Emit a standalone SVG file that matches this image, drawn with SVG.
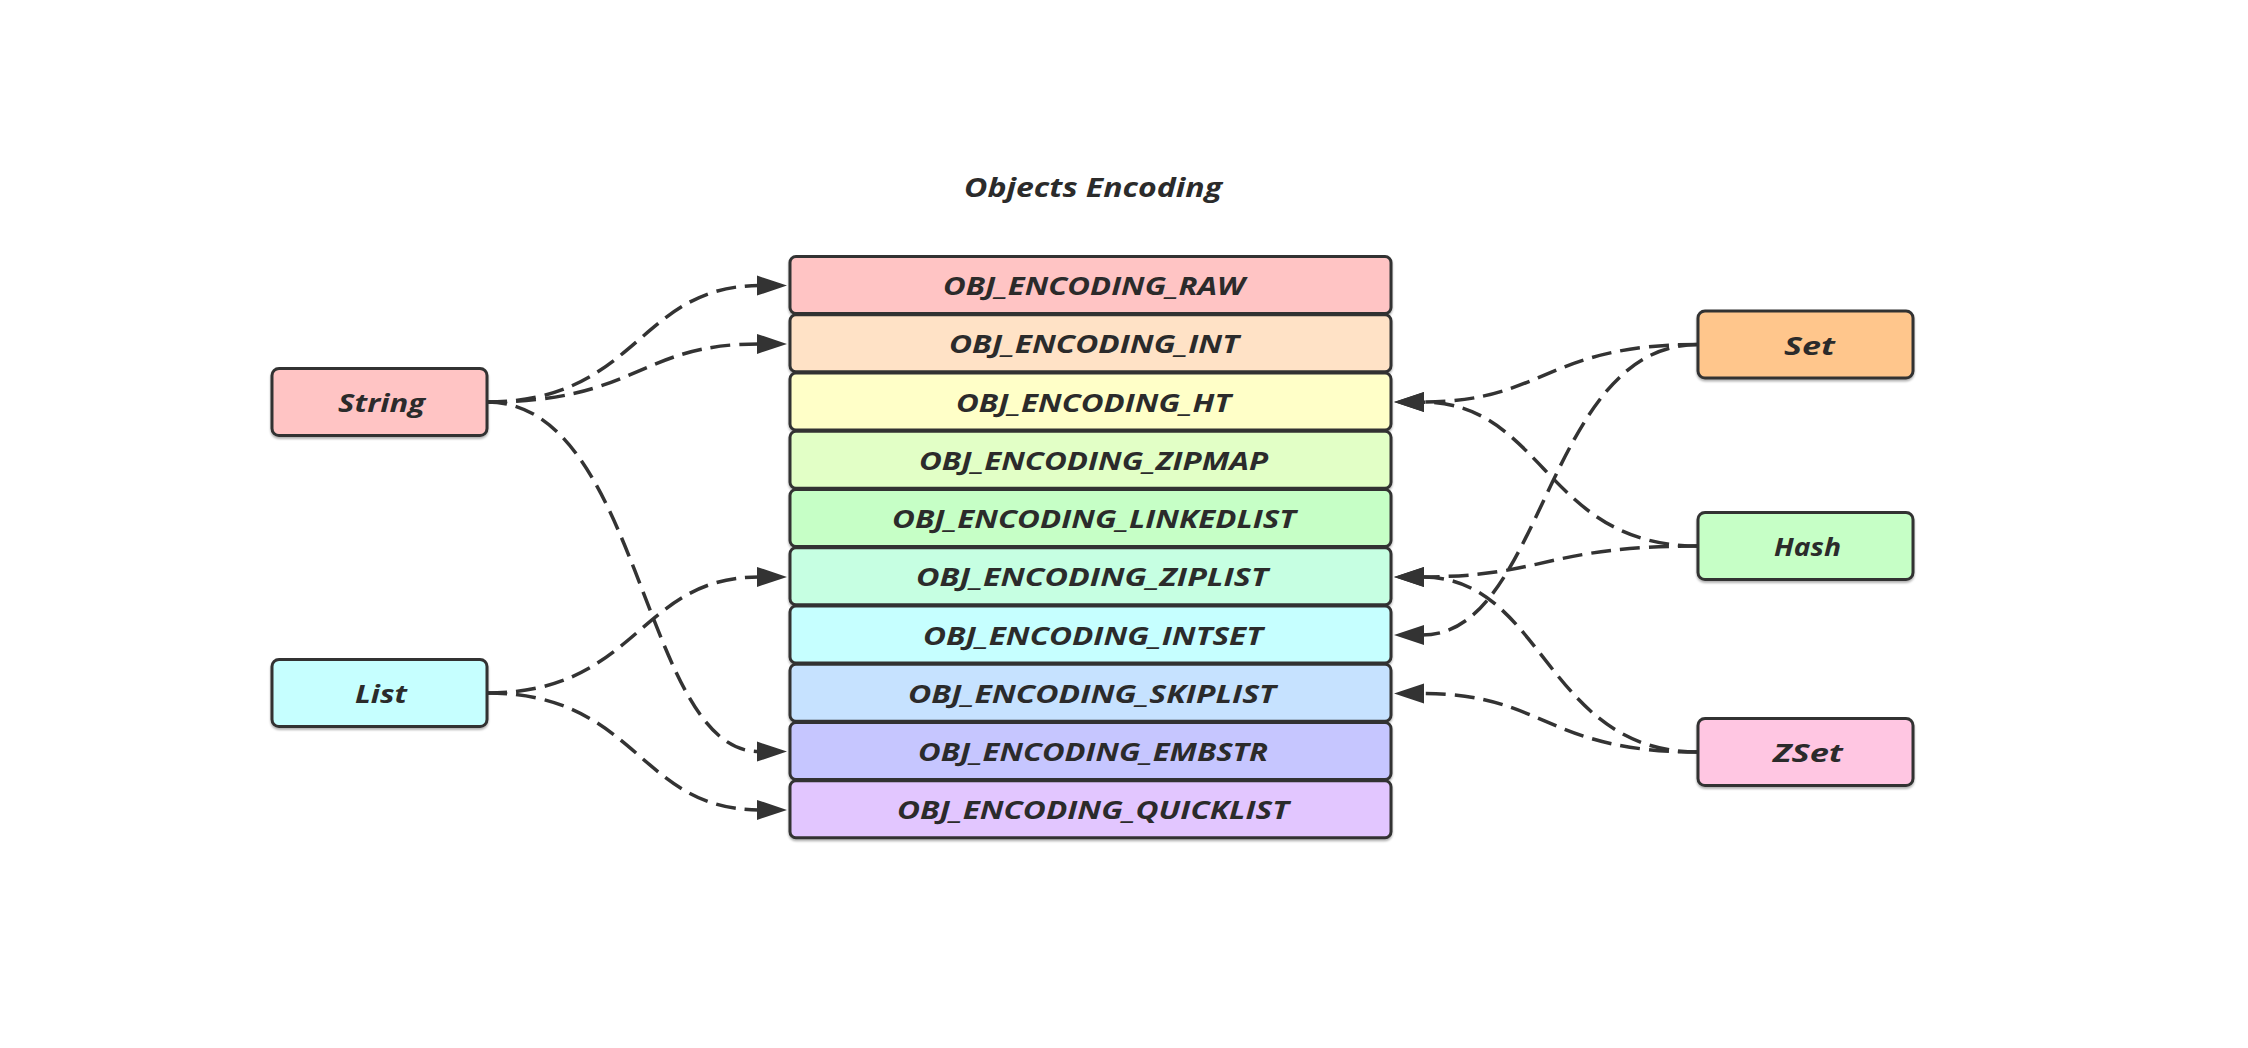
<svg xmlns="http://www.w3.org/2000/svg" width="2248" height="1048" viewBox="0 0 2248 1048">
<defs>
<style>
.box{stroke:#333333;stroke-width:3}
.lbl{font-family:"Open Sans","Liberation Sans",sans-serif;font-weight:700;font-style:italic;font-size:25px;fill:#2b2b2b;text-anchor:middle}
.title{font-family:"Open Sans","Liberation Sans",sans-serif;font-weight:700;font-style:italic;font-size:27px;fill:#2b2b2b;text-anchor:middle}
.edge{fill:none;stroke:#333333;stroke-width:3.5;stroke-dasharray:20 9}
</style>
<filter id="sh" x="-5%" y="-10%" width="110%" height="130%">
<feDropShadow dx="0" dy="2" stdDeviation="1" flood-color="#000" flood-opacity="0.3"/>
</filter>
<marker id="arr" markerUnits="userSpaceOnUse" markerWidth="32" markerHeight="22" viewBox="0 0 32 22" refX="2" refY="11" orient="auto">
<path d="M0,1 L30,11 L0,21 z" fill="#333333"/>
</marker>
</defs>
<rect width="2248" height="1048" fill="#ffffff"/>

<text class="title" x="1093" y="197" textLength="258" lengthAdjust="spacingAndGlyphs">Objects Encoding</text>

<g id="connectors">
<path class="edge" marker-end="url(#arr)" d="M487,402 C638,402 638,285.6 759,285.6"/>
<path class="edge" marker-end="url(#arr)" d="M487,402 C638,402 638,343.9 759,343.9"/>
<path class="edge" marker-end="url(#arr)" d="M487,402 C642,402 642,751.6 759,751.6"/>
<path class="edge" marker-end="url(#arr)" d="M487,693 C638,693 638,576.9 759,576.9"/>
<path class="edge" marker-end="url(#arr)" d="M487,693 C638,693 638,809.9 759,809.9"/>
<path class="edge" marker-end="url(#arr)" d="M1698,344.5 C1545,344.5 1545,402.1 1422,402.1"/>
<path class="edge" marker-end="url(#arr)" d="M1698,344.5 C1545,344.5 1545,635.1 1422,635.1"/>
<path class="edge" marker-end="url(#arr)" d="M1698,546 C1545,546 1545,402.1 1422,402.1"/>
<path class="edge" marker-end="url(#arr)" d="M1698,546 C1545,546 1545,576.9 1422,576.9"/>
<path class="edge" marker-end="url(#arr)" d="M1698,752 C1545,752 1545,576.9 1422,576.9"/>
<path class="edge" marker-end="url(#arr)" d="M1698,752 C1545,752 1545,693.4 1422,693.4"/>
</g>

<g id="enc-raw"><rect class="box" filter="url(#sh)" x="790" y="256.5" width="601" height="57" rx="6" fill="#FFC4C4"/><text class="lbl" x="1094" y="295" textLength="302" lengthAdjust="spacingAndGlyphs">OBJ_ENCODING_RAW</text></g>
<g id="enc-int"><rect class="box" filter="url(#sh)" x="790" y="314.75" width="601" height="57" rx="6" fill="#FFE2C6"/><text class="lbl" x="1094" y="353.3" textLength="290" lengthAdjust="spacingAndGlyphs">OBJ_ENCODING_INT</text></g>
<g id="enc-ht"><rect class="box" filter="url(#sh)" x="790" y="373" width="601" height="57" rx="6" fill="#FFFFC8"/><text class="lbl" x="1093.5" y="411.5" textLength="275" lengthAdjust="spacingAndGlyphs">OBJ_ENCODING_HT</text></g>
<g id="enc-zipmap"><rect class="box" filter="url(#sh)" x="790" y="431.25" width="601" height="57" rx="6" fill="#E2FFC6"/><text class="lbl" x="1093.5" y="469.8" textLength="349" lengthAdjust="spacingAndGlyphs">OBJ_ENCODING_ZIPMAP</text></g>
<g id="enc-linkedlist"><rect class="box" filter="url(#sh)" x="790" y="489.5" width="601" height="57" rx="6" fill="#C6FFC6"/><text class="lbl" x="1094" y="528" textLength="404" lengthAdjust="spacingAndGlyphs">OBJ_ENCODING_LINKEDLIST</text></g>
<g id="enc-ziplist"><rect class="box" filter="url(#sh)" x="790" y="547.75" width="601" height="57" rx="6" fill="#C6FFE2"/><text class="lbl" x="1092" y="586.3" textLength="352" lengthAdjust="spacingAndGlyphs">OBJ_ENCODING_ZIPLIST</text></g>
<g id="enc-intset"><rect class="box" filter="url(#sh)" x="790" y="606" width="601" height="57" rx="6" fill="#C6FFFF"/><text class="lbl" x="1093" y="644.5" textLength="340" lengthAdjust="spacingAndGlyphs">OBJ_ENCODING_INTSET</text></g>
<g id="enc-skiplist"><rect class="box" filter="url(#sh)" x="790" y="664.25" width="601" height="57" rx="6" fill="#C6E2FF"/><text class="lbl" x="1092" y="702.8" textLength="368" lengthAdjust="spacingAndGlyphs">OBJ_ENCODING_SKIPLIST</text></g>
<g id="enc-embstr"><rect class="box" filter="url(#sh)" x="790" y="722.5" width="601" height="57" rx="6" fill="#C6C6FF"/><text class="lbl" x="1093" y="761" textLength="350" lengthAdjust="spacingAndGlyphs">OBJ_ENCODING_EMBSTR</text></g>
<g id="enc-quicklist"><rect class="box" filter="url(#sh)" x="790" y="780.75" width="601" height="57" rx="6" fill="#E2C6FF"/><text class="lbl" x="1093" y="819.3" textLength="392" lengthAdjust="spacingAndGlyphs">OBJ_ENCODING_QUICKLIST</text></g>

<g id="node-string"><rect class="box" filter="url(#sh)" x="272" y="368.5" width="215" height="67" rx="7" fill="#FFC4C4"/><text class="lbl" x="381.5" y="412" textLength="87" lengthAdjust="spacingAndGlyphs">String</text></g>
<g id="node-list"><rect class="box" filter="url(#sh)" x="272" y="659.5" width="215" height="67" rx="7" fill="#C6FFFF"/><text class="lbl" x="381" y="703" textLength="52" lengthAdjust="spacingAndGlyphs">List</text></g>
<g id="node-set"><rect class="box" filter="url(#sh)" x="1698" y="311" width="215" height="67" rx="7" fill="#FFC68C"/><text class="lbl" x="1809.5" y="354.5" textLength="51" lengthAdjust="spacingAndGlyphs">Set</text></g>
<g id="node-hash"><rect class="box" filter="url(#sh)" x="1698" y="512.5" width="215" height="67" rx="7" fill="#C6FFC6"/><text class="lbl" x="1807.5" y="556" textLength="67" lengthAdjust="spacingAndGlyphs">Hash</text></g>
<g id="node-zset"><rect class="box" filter="url(#sh)" x="1698" y="718.5" width="215" height="67" rx="7" fill="#FFC6E2"/><text class="lbl" x="1808" y="762" textLength="70" lengthAdjust="spacingAndGlyphs">ZSet</text></g>
</svg>
